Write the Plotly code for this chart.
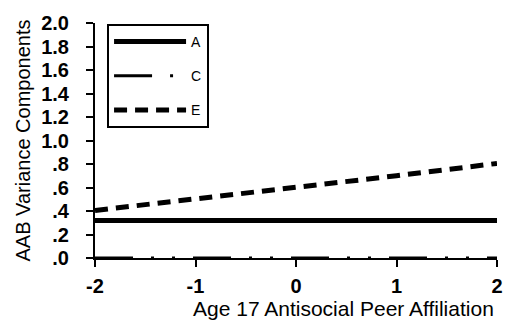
import plotly.graph_objects as go

x_vals = [-2, -1, 0, 1, 2]
A_vals = [0.32, 0.32, 0.32, 0.32, 0.32]
C_vals = [0.0, 0.0, 0.0, 0.0, 0.0]
E_vals = [0.405, 0.50, 0.60, 0.70, 0.805]

y_ticks = [0, 0.2, 0.4, 0.6, 0.8, 1.0, 1.2, 1.4, 1.6, 1.8, 2.0]
y_labels = [".0", ".2", ".4", ".6", ".8", "1.0", "1.2", "1.4", "1.6", "1.8", "2.0"]
x_ticks = [-2, -1, 0, 1, 2]
x_labels = ["-2", "-1", "0", "1", "2"]

fig = go.Figure()
fig.add_trace(go.Scatter(x=x_vals, y=A_vals, mode="lines", name="A", legendgroup="a",
                         line=dict(color="black", width=5)))
fig.add_trace(go.Scatter(x=x_vals, y=C_vals, mode="lines", name="C", legendgroup="c",
                         line=dict(color="black", width=3, dash="38px,18px,3px,18px,3px,18px")))
fig.add_trace(go.Scatter(x=x_vals, y=E_vals, mode="lines", name="E", legendgroup="e",
                         line=dict(color="black", width=5, dash="13px,8px")))

fig.update_traces(cliponaxis=False)

tickfont = dict(size=20, family="Liberation Sans, Arial", weight="bold", color="black")

fig.update_layout(
    width=515, height=323,
    margin=dict(l=95, r=14, t=16, b=65),
    plot_bgcolor="white", paper_bgcolor="white",
    font=dict(family="Liberation Sans, Arial", color="black"),
    showlegend=True,
    legend=dict(x=0.03, y=0.996, xanchor="left", yanchor="top",
                bordercolor="black", borderwidth=2, bgcolor="white",
                font=dict(size=14, color="black"), itemwidth=72,
                traceorder="grouped", tracegroupgap=13),
    xaxis=dict(range=[-2, 2], tickvals=x_ticks, ticktext=x_labels,
               showline=True, linecolor="black", linewidth=2, ticks="outside",
               ticklen=7, tickwidth=2, tickcolor="black", showgrid=False, zeroline=False,
               tickfont=tickfont, ticklabelstandoff=2),
    yaxis=dict(range=[0, 2], tickvals=y_ticks, ticktext=y_labels,
               showline=True, linecolor="black", linewidth=2, ticks="outside",
               ticklen=7, tickwidth=2, tickcolor="black", showgrid=False, zeroline=False,
               tickfont=tickfont, ticklabelstandoff=13,
               title=dict(text="AAB Variance Components", font=dict(size=20), standoff=5)),
    annotations=[dict(text="Age 17 Antisocial Peer Affiliation", xref="paper", yref="paper",
                      x=0.618, y=-0.215, xanchor="center", yanchor="middle",
                      showarrow=False, font=dict(size=21, color="black"))],
)

fig.write_html("out.html")
